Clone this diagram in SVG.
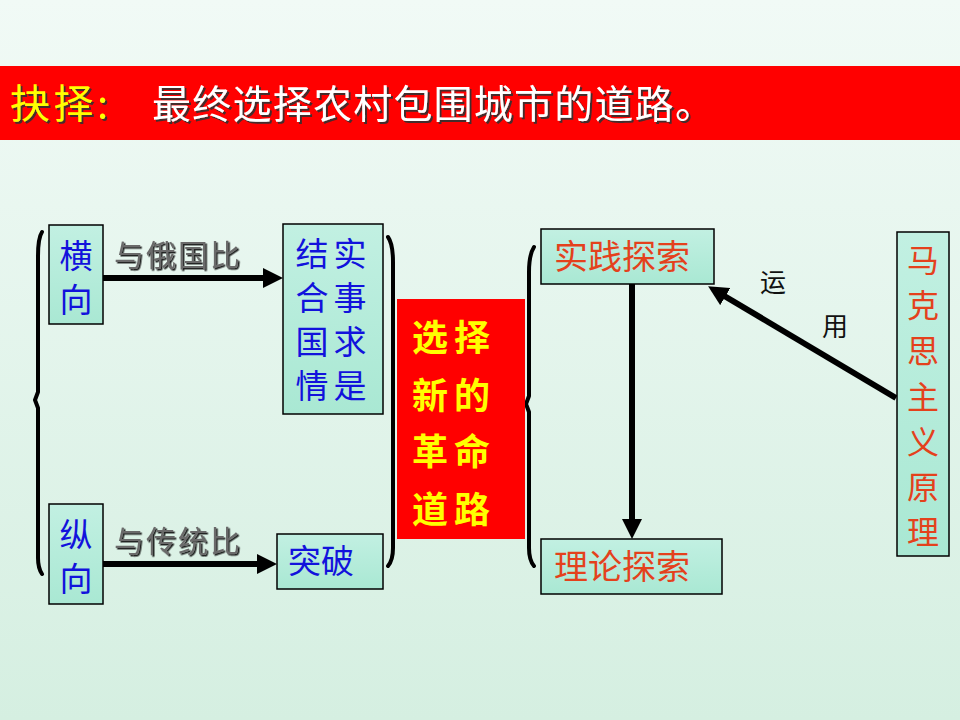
<svg xmlns="http://www.w3.org/2000/svg" width="960" height="720" viewBox="0 0 960 720">
<style>
.cjk{font-family:"Noto Sans CJK SC","Noto Sans CJK JP",sans-serif}
.box{fill:url(#boxg);stroke:#000;stroke-width:1.5}
.blue{fill:#1212dc;font-size:33px}
.red{fill:#e4411c;font-size:34px}
.redv{fill:#e4411c;font-size:32px}
.gray{fill:#6a6a6a;font-size:30px;filter:url(#emb)}
.ylw{fill:#ffff00;font-size:36px;font-weight:bold}
.conn{stroke:#000;stroke-width:6;fill:none}
.brk{stroke:#000;stroke-width:4;fill:none;stroke-linecap:round;stroke-linejoin:round}
</style>
<defs>
<linearGradient id="bg" x1="0" y1="0" x2="0" y2="1">
<stop offset="0" stop-color="#f1faf6"/>
<stop offset="1" stop-color="#d5efe1"/>
</linearGradient>
<linearGradient id="boxg" x1="0" y1="0" x2="0" y2="1">
<stop offset="0" stop-color="#c2f0e2"/>
<stop offset="1" stop-color="#a9e8d3"/>
</linearGradient>
<filter id="sh" x="-5%" y="-20%" width="110%" height="140%">
<feDropShadow dx="2" dy="2" stdDeviation="0.6" flood-color="#333" flood-opacity="0.9"/>
</filter>
<filter id="emb" x="-5%" y="-20%" width="110%" height="140%">
<feDropShadow dx="1.5" dy="1.5" stdDeviation="0.5" flood-color="#111" flood-opacity="0.9"/>
</filter>
<marker id="ah" viewBox="0 0 20 20" refX="5" refY="10" markerWidth="20" markerHeight="20" markerUnits="userSpaceOnUse" orient="auto">
<path d="M0,0 L20,10 L0,20 z" fill="#000"/>
</marker>
</defs>
<rect width="960" height="720" fill="url(#bg)"/>
<g id="title">
<rect x="0" y="66" width="960" height="74" fill="#ff0000"/>
<text class="cjk" x="10" y="118" font-size="40" fill="#ffff00" filter="url(#sh)" textLength="98">抉择:</text>
<text class="cjk" x="152" y="118" font-size="39" fill="#ffffff" filter="url(#sh)" textLength="562">最终选择农村包围城市的道路。</text>
</g>
<g id="connectors">
<line class="conn" x1="103" y1="278" x2="268" y2="278" marker-end="url(#ah)"/>
<line class="conn" x1="103" y1="564" x2="262" y2="564" marker-end="url(#ah)"/>
<line class="conn" x1="632" y1="284" x2="632" y2="524" marker-end="url(#ah)"/>
<line class="conn" x1="896" y1="398" x2="721" y2="294" marker-end="url(#ah)"/>
<text class="cjk gray" x="114" y="266" textLength="126">与俄国比</text>
<text class="cjk gray" x="114" y="552" textLength="126">与传统比</text>
<text class="cjk" x="760" y="292" font-size="26" fill="#111">运</text>
<text class="cjk" x="822" y="336" font-size="26" fill="#111">用</text>
</g>
<g id="brackets">
<path class="brk" d="M42,232 Q38,238 38,256 L38,392 L35,400 L38,408 L38,558 Q38,568 42,574"/>
<path class="brk" d="M388,237 Q393,244 393,262 L393,548 Q393,560 388,566"/>
<path class="brk" d="M534,247 Q529,255 529,272 L529,396 L526,404 L529,412 L529,548 Q529,560 534,566"/>
</g>
<g id="n-heng">
<rect class="box" x="49" y="225" width="54" height="99"/>
<text class="cjk blue" x="76" y="268" text-anchor="middle">横</text>
<text class="cjk blue" x="76" y="312" text-anchor="middle">向</text>
</g>
<g id="n-jiehe">
<rect class="box" x="283" y="224" width="100" height="190"/>
<text class="cjk blue" x="312" y="266" text-anchor="middle">结</text>
<text class="cjk blue" x="350" y="266" text-anchor="middle">实</text>
<text class="cjk blue" x="312" y="310" text-anchor="middle">合</text>
<text class="cjk blue" x="350" y="310" text-anchor="middle">事</text>
<text class="cjk blue" x="312" y="354" text-anchor="middle">国</text>
<text class="cjk blue" x="350" y="354" text-anchor="middle">求</text>
<text class="cjk blue" x="312" y="398" text-anchor="middle">情</text>
<text class="cjk blue" x="350" y="398" text-anchor="middle">是</text>
</g>
<g id="n-zong">
<rect class="box" x="49" y="504" width="54" height="100"/>
<text class="cjk blue" x="76" y="547" text-anchor="middle">纵</text>
<text class="cjk blue" x="76" y="591" text-anchor="middle">向</text>
</g>
<g id="n-tupo">
<rect class="box" x="277" y="534" width="106" height="55"/>
<text class="cjk blue" x="321" y="573" text-anchor="middle">突破</text>
</g>
<g id="n-road">
<rect x="397" y="299" width="128" height="240" fill="#ff0000"/>
<text class="cjk ylw" x="454" y="351" text-anchor="middle" letter-spacing="6">选择</text>
<text class="cjk ylw" x="454" y="409" text-anchor="middle" letter-spacing="6">新的</text>
<text class="cjk ylw" x="454" y="465" text-anchor="middle" letter-spacing="6">革命</text>
<text class="cjk ylw" x="454" y="523" text-anchor="middle" letter-spacing="6">道路</text>
</g>
<g id="n-shijian">
<rect class="box" x="541" y="229" width="173" height="55"/>
<text class="cjk red" x="622" y="269" text-anchor="middle">实践探索</text>
</g>
<g id="n-lilun">
<rect class="box" x="541" y="539" width="181" height="55"/>
<text class="cjk red" x="622" y="579" text-anchor="middle">理论探索</text>
</g>
<g id="n-marx">
<rect class="box" x="897" y="232" width="52" height="324"/>
<text class="cjk redv" x="923" y="272" text-anchor="middle">马</text>
<text class="cjk redv" x="923" y="317" text-anchor="middle">克</text>
<text class="cjk redv" x="923" y="363" text-anchor="middle">思</text>
<text class="cjk redv" x="923" y="409" text-anchor="middle">主</text>
<text class="cjk redv" x="923" y="454" text-anchor="middle">义</text>
<text class="cjk redv" x="923" y="499" text-anchor="middle">原</text>
<text class="cjk redv" x="923" y="544" text-anchor="middle">理</text>
</g>
</svg>
